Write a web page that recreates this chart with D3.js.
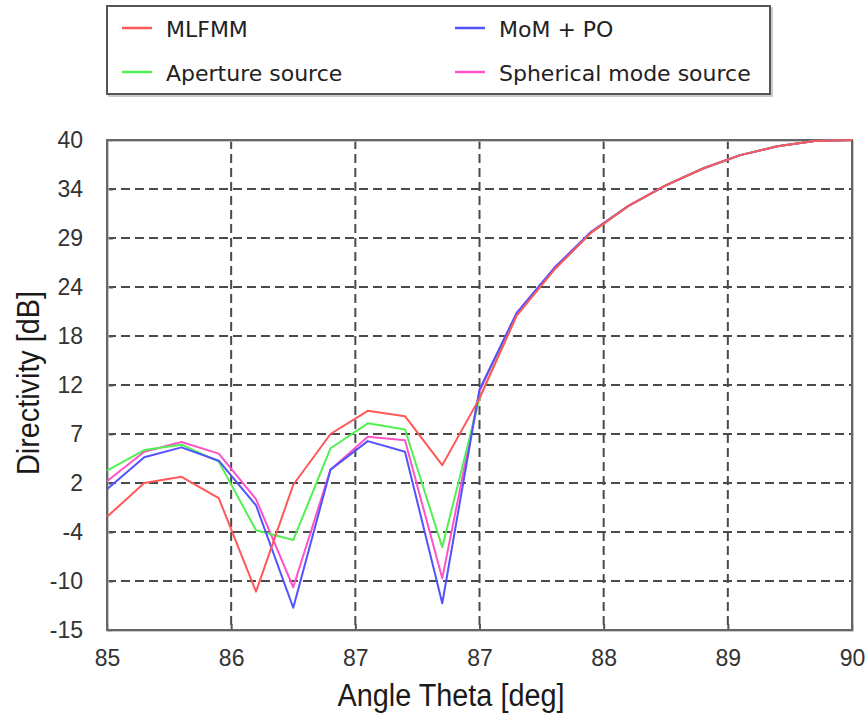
<!DOCTYPE html>
<html>
<head>
<meta charset="utf-8">
<script src="https://cdn.jsdelivr.net/npm/d3@7"></script>
<style>
  html, body { margin: 0; padding: 0; background: #fff; }
  svg { display: block; }
</style>
</head>
<body>
<svg id="chart" width="866" height="717"></svg>
<script>
// ---- data ----
const theta = [85, 85.25, 85.5, 85.75, 86, 86.25, 86.5, 86.75, 87, 87.25, 87.5,
               87.75, 88, 88.25, 88.5, 88.75, 89, 89.25, 89.5, 89.75, 90];
const mlfmm     = [-2.3, 1.5, 2.2, -0.2, -10.7, 1.3, 7.0, 9.6, 9.0, 3.5, 11.0,
                   20.3, 25.4, 29.6, 32.6, 34.9, 36.8, 38.3, 39.3, 39.9, 40.0];
const mompo     = [0.8, 4.4, 5.5, 4.0, -1.0, -12.5, 3.0, 6.2, 5.0, -12.0, 12.0,
                   20.6, 25.6, 29.7, 32.6, 34.9, 36.8, 38.3, 39.3, 39.9, 40.0];
const aperture  = [2.9, 5.2, 5.8, 3.9, -3.8, -4.9, 5.4, 8.2, 7.5, -5.7, 11.0,
                   20.4, 25.5, 29.6, 32.6, 34.9, 36.8, 38.3, 39.3, 39.9, 40.0];
const spherical = [1.7, 5.0, 6.1, 4.8, -0.3, -10.2, 3.0, 6.7, 6.3, -9.2, 11.8,
                   20.6, 25.6, 29.7, 32.6, 34.9, 36.8, 38.3, 39.3, 39.9, 40.0];

const seriesNames = ["MLFMM", "MoM + PO", "Aperture source", "Spherical mode source"];
const xTickValues = [85, 85.8333, 86.6667, 87.5, 88.3333, 89.1667, 90];
const xTickLabels = ["85", "86", "87", "87", "88", "89", "90"];
const yTickValues = [-15, -9.5, -4, 1.5, 7, 12.5, 18, 23.5, 29, 34.5, 40];
const yTickLabels = ["-15", "-10", "-4", "2", "7", "12", "18", "24", "29", "34", "40"];
const xTitle = "Angle Theta [deg]";
const yTitle = "Directivity [dB]";

// ---- layout ----
const svg = d3.select("#chart");
const L = 107, R = 852, T = 140, B = 630;
const x = d3.scaleLinear().domain([85, 90]).range([L, R]);
const y = d3.scaleLinear().domain([-15, 40]).range([B, T]);

const colors = {
  "MLFMM": "#ff5858",
  "MoM + PO": "#5252ff",
  "Aperture source": "#52f052",
  "Spherical mode source": "#ff52c8"
};
const values = {
  "MLFMM": mlfmm,
  "MoM + PO": mompo,
  "Aperture source": aperture,
  "Spherical mode source": spherical
};

// grid
const grid = svg.append("g");
grid.selectAll("line.gy").data(yTickValues.slice(1, -1)).join("line")
  .attr("x1", L).attr("x2", R)
  .attr("y1", d => y(d)).attr("y2", d => y(d))
  .attr("stroke", "#4a4a4a").attr("stroke-width", 2)
  .attr("stroke-dasharray", "9,5");
grid.selectAll("line.gx").data(xTickValues.slice(1, -1)).join("line")
  .attr("y1", T).attr("y2", B)
  .attr("x1", d => x(d)).attr("x2", d => x(d))
  .attr("stroke", "#4a4a4a").attr("stroke-width", 2)
  .attr("stroke-dasharray", "9,5");

// axes
const yAxis = d3.axisLeft(y).tickValues(yTickValues)
  .tickFormat((d, i) => yTickLabels[i]).tickSizeInner(-6).tickSizeOuter(0).tickPadding(24);
const xAxis = d3.axisBottom(x).tickValues(xTickValues)
  .tickFormat((d, i) => xTickLabels[i]).tickSizeInner(-6).tickSizeOuter(0).tickPadding(20);

const gy = svg.append("g").attr("transform", `translate(${L},0)`).call(yAxis);
const gx = svg.append("g").attr("transform", `translate(0,${B})`).call(xAxis);
[gx, gy].forEach(g => {
  g.select(".domain").remove();
  g.selectAll(".tick line").attr("stroke", "#555").attr("stroke-width", 2);
  g.selectAll(".tick text")
    .attr("fill", "#333")
    .style("font-family", "'Liberation Sans', Arial, sans-serif")
    .style("font-size", "23px");
});

// frame
svg.append("rect").attr("x", L + 1).attr("y", T + 1).attr("width", R - L).attr("height", B - T)
  .attr("fill", "none").attr("stroke", "#bbb").attr("stroke-width", 1.5);
svg.append("rect").attr("x", L).attr("y", T).attr("width", R - L).attr("height", B - T)
  .attr("fill", "none").attr("stroke", "#666").attr("stroke-width", 2);

// series
const line = d3.line().x((d, i) => x(theta[i])).y(d => y(d));
const drawOrder = ["Spherical mode source", "Aperture source", "MoM + PO", "MLFMM"];
svg.append("g").selectAll("path").data(drawOrder).join("path")
  .attr("d", n => line(values[n]))
  .attr("fill", "none")
  .attr("stroke", n => colors[n])
  .attr("stroke-width", 2)
  .attr("stroke-linejoin", "round");

// titles
svg.append("text")
  .attr("x", 451).attr("y", 706)
  .attr("text-anchor", "middle")
  .attr("fill", "#1a1a1a")
  .style("font-family", "'Liberation Sans Narrow', 'Liberation Sans', Arial, sans-serif")
  .style("font-size", "31px")
  .attr("textLength", 227).attr("lengthAdjust", "spacingAndGlyphs")
  .text(xTitle);
svg.append("text")
  .attr("transform", "translate(39,383) rotate(-90)")
  .attr("text-anchor", "middle")
  .attr("fill", "#1a1a1a")
  .style("font-family", "'Liberation Sans Narrow', 'Liberation Sans', Arial, sans-serif")
  .style("font-size", "31px")
  .attr("textLength", 184).attr("lengthAdjust", "spacingAndGlyphs")
  .text(yTitle);

// legend
const lg = svg.append("g");
lg.append("rect").attr("x", 109).attr("y", 8).attr("width", 663).attr("height", 88)
  .attr("fill", "none").attr("stroke", "#bbb").attr("stroke-width", 1.5);
lg.append("rect").attr("x", 107).attr("y", 6).attr("width", 663).attr("height", 88)
  .attr("fill", "#fff").attr("stroke", "#555").attr("stroke-width", 2);
const legendPos = {
  "MLFMM": [122, 28],
  "MoM + PO": [455, 28],
  "Aperture source": [122, 72],
  "Spherical mode source": [455, 72]
};
seriesNames.forEach(n => {
  const [lx, ly] = legendPos[n];
  lg.append("line").attr("x1", lx).attr("x2", lx + 30).attr("y1", ly).attr("y2", ly)
    .attr("stroke", colors[n]).attr("stroke-width", 2.5);
  lg.append("text").attr("x", lx + 44).attr("y", ly + 9)
    .attr("fill", "#222")
    .style("font-family", "'DejaVu Sans', sans-serif")
    .style("font-size", "22px")
    .text(n);
});
</script>
</body>
</html>
